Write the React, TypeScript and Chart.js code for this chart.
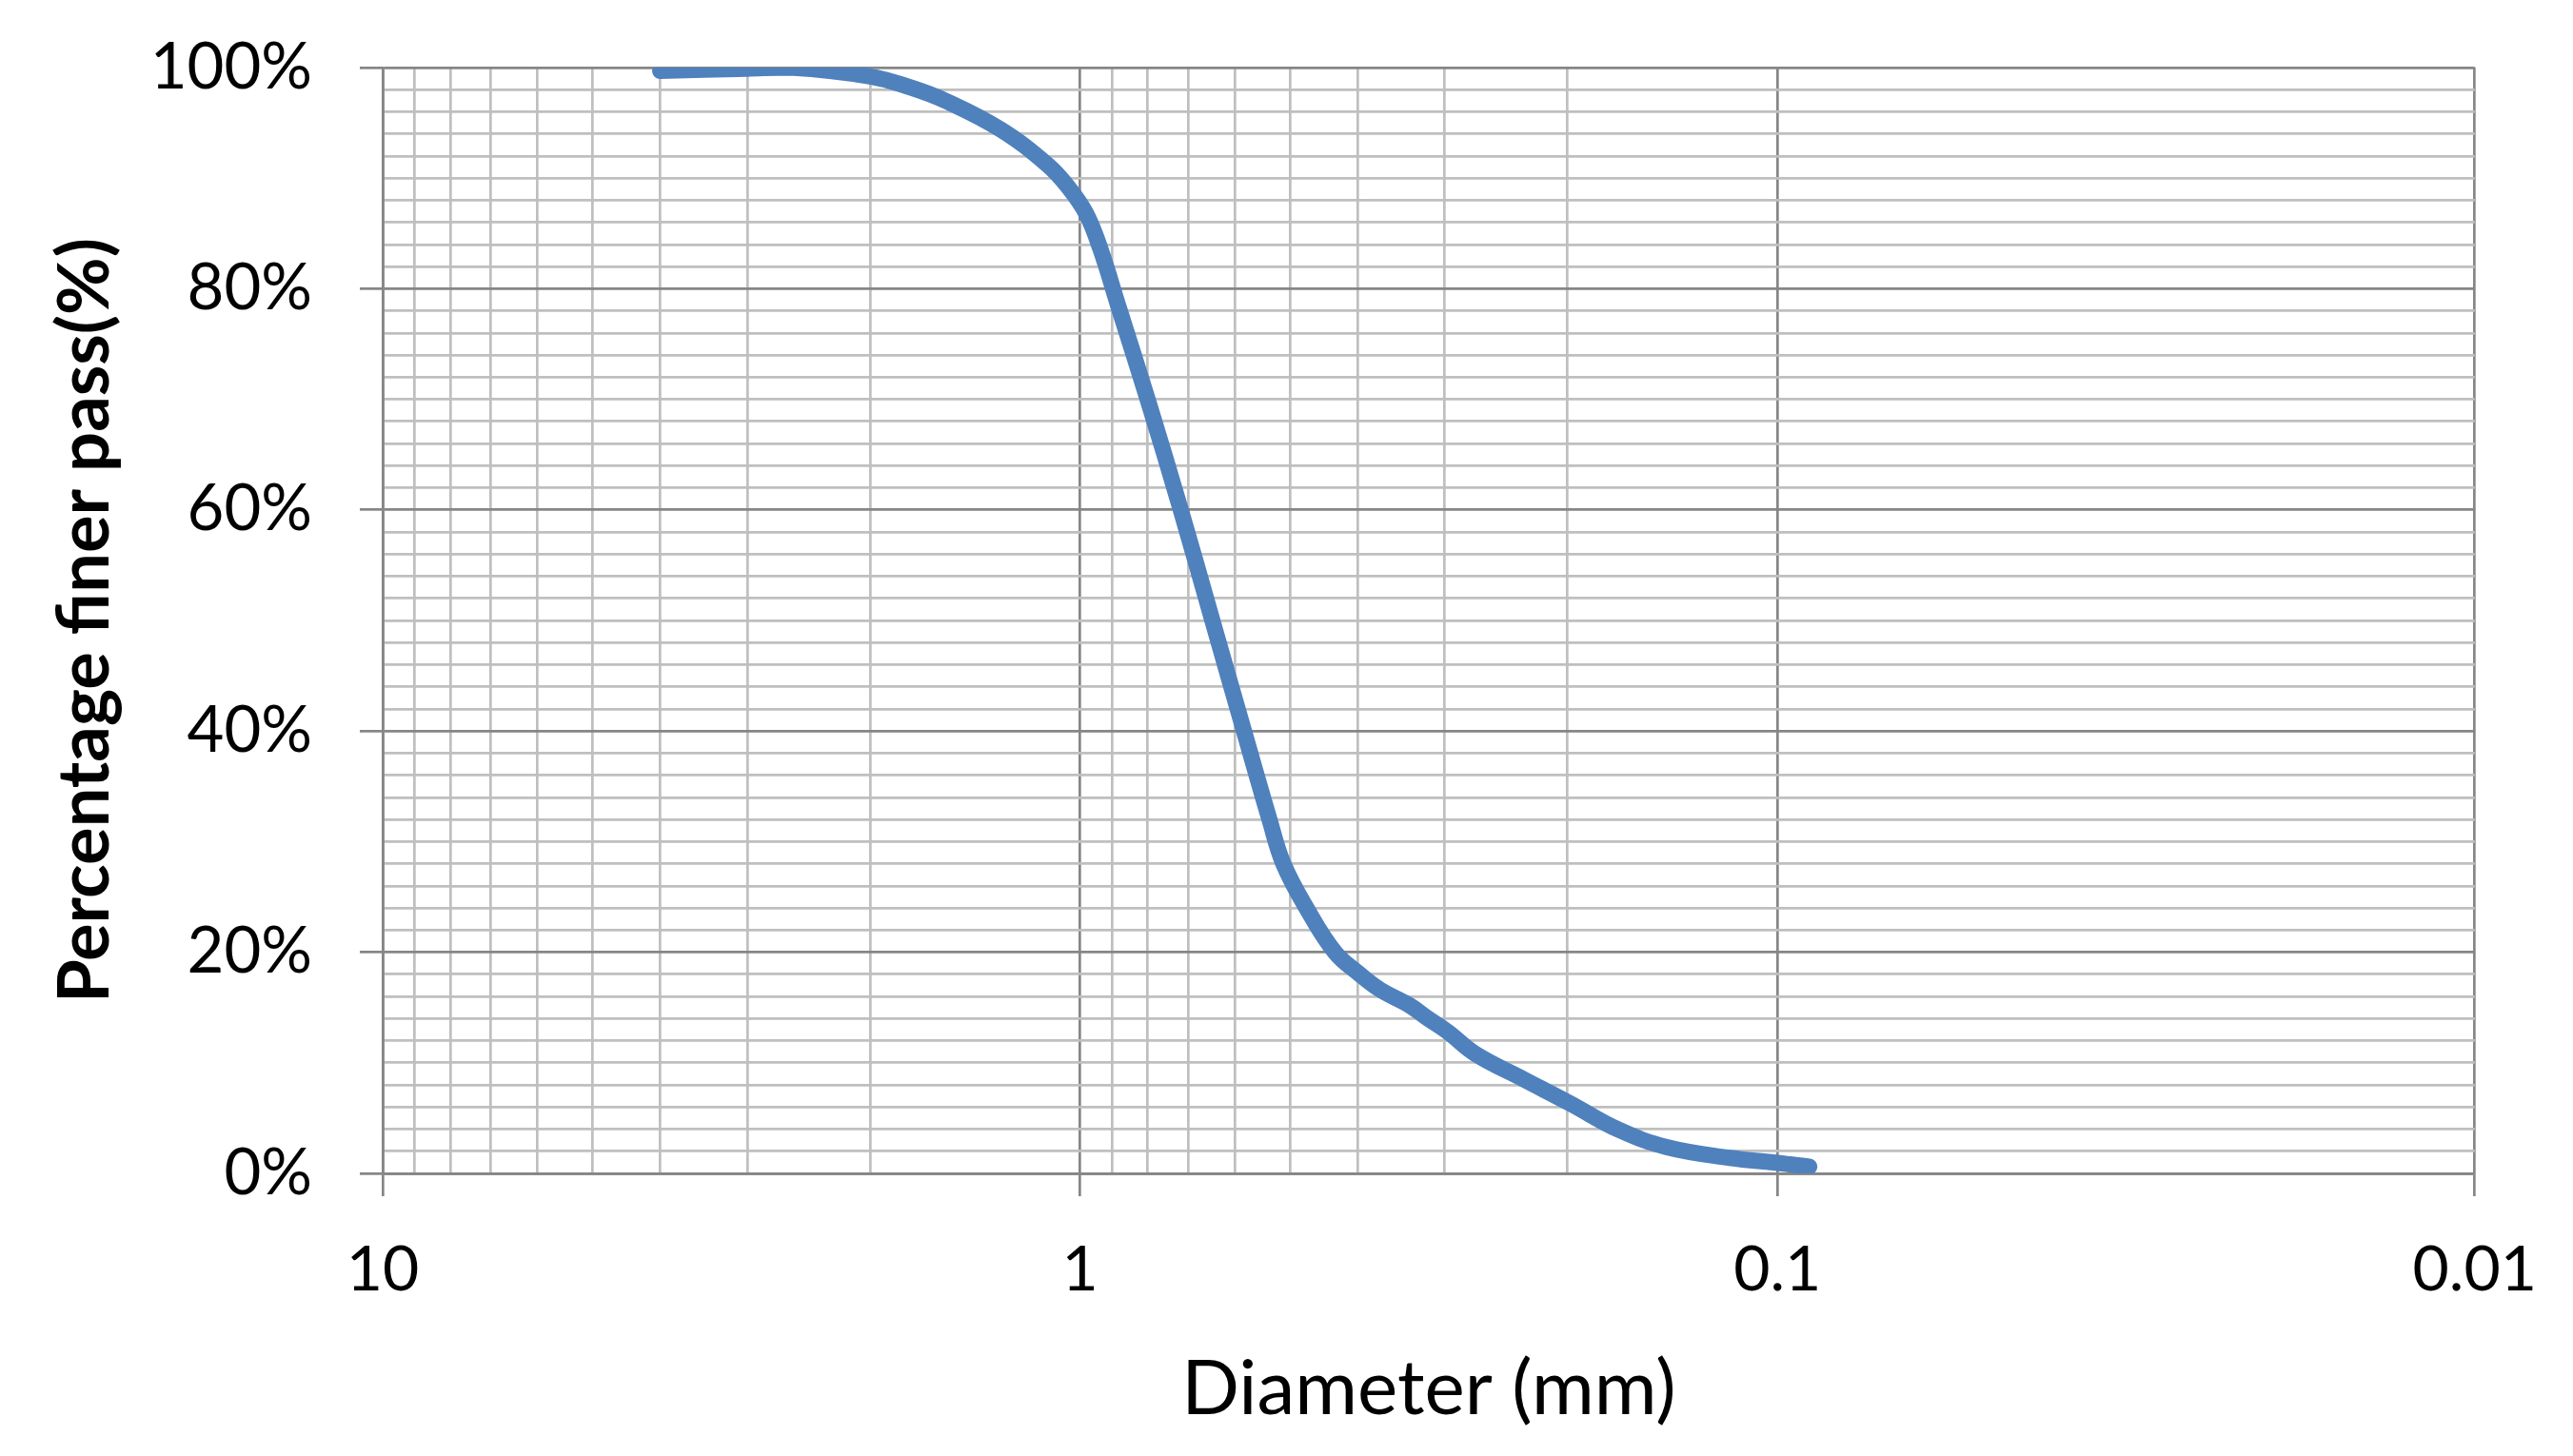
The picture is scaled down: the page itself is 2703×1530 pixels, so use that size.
import React, { useEffect, useRef } from 'react';
import { Chart, registerables } from 'chart.js';

Chart.register(...registerables);

// Particle size distribution
const diameters = [4.0, 3.0, 2.6, 2.0, 1.75, 1.56, 1.3, 1.113, 1.04, 0.98, 0.935, 0.88, 0.8, 0.717, 0.646, 0.582, 0.535, 0.511, 0.4735, 0.431, 0.397, 0.371, 0.337, 0.317, 0.297, 0.271, 0.231, 0.198, 0.169, 0.144, 0.117, 0.1, 0.09];
const percentFiner = [99.7, 99.9, 100.0, 99.2, 98.2, 97.0, 94.4, 91.2, 89.2, 86.8, 83.6, 78.3, 70.0, 60.0, 50.0, 40.0, 32.0, 28.0, 24.0, 20.0, 18.0, 16.6, 15.2, 14.0, 12.8, 10.8, 8.5, 6.3, 3.95, 2.37, 1.4, 0.95, 0.6];

const xMajorTicks = [10, 1, 0.1, 0.01];
const xTickLabels = ['10', '1', '0.1', '0.01'];
const yMajorTicks = [0, 20, 40, 60, 80, 100];
const yTickLabels = ['0%', '20%', '40%', '60%', '80%', '100%'];

const xTitle = 'Diameter (mm)';
const yTitle = 'Percentage finer pass(%)';

const W = 2703;
const H = 1530;
const MAJOR = '#868686';
const MINOR = '#BFBFBF';
const FONT = 'Lato';

function isXMajor(v: number) {
  return xMajorTicks.some((m) => Math.abs(v - m) / m < 1e-6);
}

export default function App() {
  const ref = useRef<HTMLCanvasElement | null>(null);

  useEffect(() => {
    if (!ref.current) return;
    // gridline positions: 1..9 x 10^e for each decade between 0.01 and 10
    const xTickValues: number[] = [10];
    for (let e = 0; e >= -2; e--) {
      for (let k = 9; k >= 1; k--) {
        if (e === -2 && k > 1) continue;
        xTickValues.push(+(k * Math.pow(10, e)).toPrecision(6));
      }
    }
    const chart = new Chart(ref.current, {
      type: 'line',
      data: {
        datasets: [
          {
            data: diameters.map((d, i) => ({ x: d, y: percentFiner[i] })),
            borderColor: '#4F81BD',
            borderWidth: 17,
            borderCapStyle: 'round',
            borderJoinStyle: 'round',
            pointRadius: 0,
            tension: 0.4,
            clip: 0,
          } as any,
        ],
      },
      options: {
        responsive: false,
        animation: false,
        events: [],
        layout: { padding: { left: 0, right: 102, top: 71, bottom: 0 } },
        plugins: { legend: { display: false }, tooltip: { enabled: false } },
        scales: {
          x: {
            type: 'logarithmic',
            reverse: true,
            min: 0.01,
            max: 10,
            afterBuildTicks: (scale: any) => {
              scale.ticks = xTickValues.map((v) => ({ value: v }));
            },
            afterFit: (scale: any) => {
              scale.height = 297;
            },
            ticks: {
              autoSkip: false,
              maxRotation: 0,
              minRotation: 0,
              padding: 38,
              color: '#000',
              font: { family: FONT, size: 66 },
              callback: (v: any) => {
                const idx = xMajorTicks.findIndex((m) => Math.abs(Number(v) - m) / m < 1e-6);
                return idx >= 0 ? xTickLabels[idx] : '';
              },
            },
            grid: {
              lineWidth: 2.7,
              color: (c: any) => (c.tick && isXMajor(c.tick.value) ? MAJOR : MINOR),
              tickColor: (c: any) => (c.tick && isXMajor(c.tick.value) ? MAJOR : 'rgba(0,0,0,0)'),
              tickLength: 24,
            },
            border: { display: true, color: MAJOR, width: 2.7 },
            title: {
              display: true,
              text: xTitle,
              color: '#000',
              font: { family: FONT, size: 80 },
              padding: { top: 0, bottom: 22 },
            },
          },
          y: {
            type: 'linear',
            min: 0,
            max: 100,
            afterBuildTicks: (scale: any) => {
              const t: any[] = [];
              for (let v = 0; v <= 100; v += 2) t.push({ value: v });
              scale.ticks = t;
            },
            afterFit: (scale: any) => {
              scale.width = 402;
              scale.paddingTop = 0;
              scale.paddingBottom = 0;
            },
            ticks: {
              autoSkip: false,
              padding: 50,
              color: '#000',
              font: { family: FONT, size: 67 },
              callback: (v: any) => {
                const idx = yMajorTicks.indexOf(Number(v));
                return idx >= 0 ? yTickLabels[idx] : '';
              },
            },
            grid: {
              lineWidth: 2.7,
              color: (c: any) => (c.tick && c.tick.value % 20 === 0 ? MAJOR : MINOR),
              tickColor: (c: any) => (c.tick && c.tick.value % 20 === 0 ? MAJOR : 'rgba(0,0,0,0)'),
              tickLength: 24,
            },
            border: { display: true, color: MAJOR, width: 2.7 },
            title: {
              display: true,
              text: yTitle,
              color: '#000',
              font: { family: FONT, size: 74, weight: 'bold' },
              padding: { top: 46, bottom: 0 },
            },
          },
        },
      } as any,
    });
    return () => chart.destroy();
  }, []);

  return (
    <div style={{ position: 'fixed', left: 0, top: 0, width: W, height: H, background: '#fff' }}>
      <canvas ref={ref} width={W} height={H} style={{ display: 'block', width: W, height: H }} />
    </div>
  );
}
